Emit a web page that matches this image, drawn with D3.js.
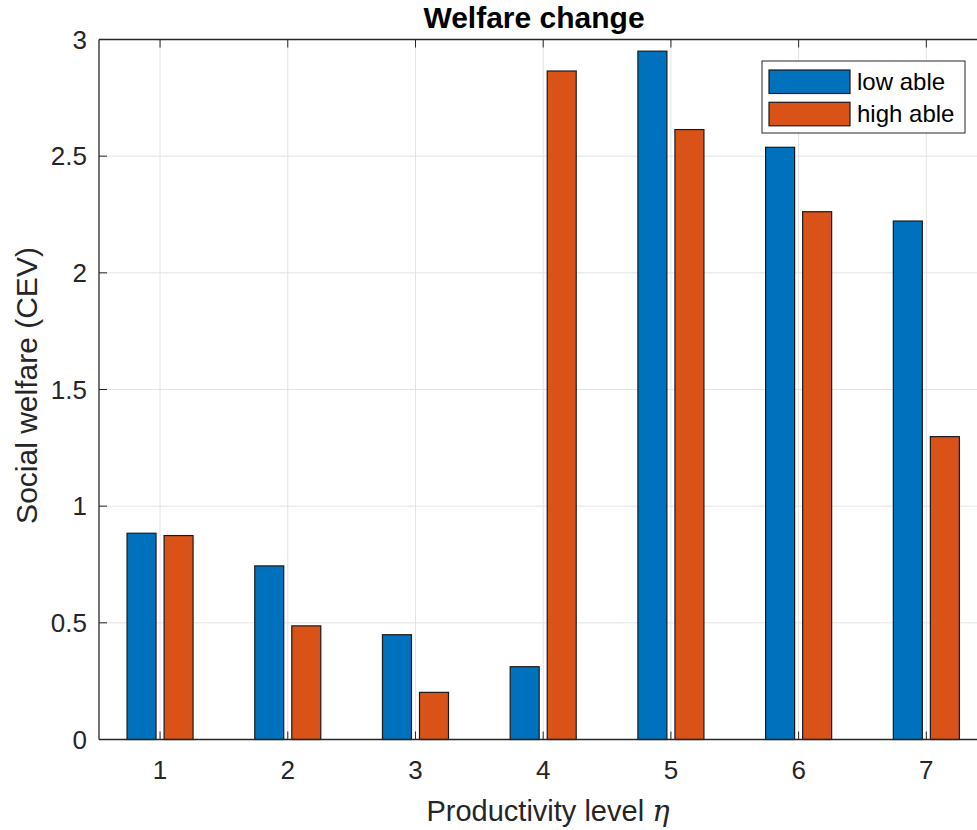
<!DOCTYPE html>
<html><head><meta charset="utf-8">
<script src="https://cdn.jsdelivr.net/npm/d3@7"></script>
<style>body{margin:0;background:#fff}svg{display:block}text{font-family:"Liberation Sans",Arial,sans-serif}</style>
</head><body><svg id="c" width="977" height="830"></svg>
<script>
const categories = [1,2,3,4,5,6,7];
const lowAble  = [0.884,0.744,0.449,0.312,2.950,2.538,2.222];
const highAble = [0.874,0.487,0.202,2.865,2.614,2.262,1.298];
const seriesNames = ["low able","high able"];
const yTicks = [0,0.5,1,1.5,2,2.5,3];
const yTickLabels = ["0","0.5","1","1.5","2","2.5","3"];
const colors = ["#0072BD","#D95319"];

(function(){
const svg = d3.select("#c");
const pLeft = 99, pTop = 39.5, pBottom = 739.5;
const x = d3.scaleLinear().domain([0.5,7.5]).range([96.2, 990.2]);
const y = d3.scaleLinear().domain([0,3]).range([pBottom, pTop]);
const axisColor = "#262626";

// grid
const g = svg.append("g");
g.selectAll(".gx").data(categories).join("line")
  .attr("x1", d=>x(d)).attr("x2", d=>x(d)).attr("y1", pTop).attr("y2", pBottom)
  .attr("stroke","#e3e3e3").attr("stroke-width",1);
g.selectAll(".gy").data(yTicks).join("line")
  .attr("x1", pLeft).attr("x2", 977).attr("y1", d=>y(d)).attr("y2", d=>y(d))
  .attr("stroke","#e3e3e3").attr("stroke-width",1);

// bars
const step = x(2)-x(1);
const bw = 0.227*step, off = 0.145*step;
const data = [lowAble, highAble];
data.forEach((vals, si) => {
  svg.append("g").selectAll("rect").data(vals).join("rect")
    .attr("x", (d,i)=> x(categories[i]) + (si===0?-off:off) - bw/2)
    .attr("width", bw)
    .attr("y", d=>y(d)).attr("height", d=>y(0)-y(d))
    .attr("fill", colors[si]).attr("stroke","#1a1a1a").attr("stroke-width",1.2);
});

// axes
const ax = svg.append("g");
ax.append("line").attr("x1",pLeft).attr("x2",pLeft).attr("y1",pTop).attr("y2",pBottom).attr("stroke",axisColor).attr("stroke-width",1.3);
ax.append("line").attr("x1",pLeft).attr("x2",977).attr("y1",pBottom).attr("y2",pBottom).attr("stroke",axisColor).attr("stroke-width",1.3);
ax.append("line").attr("x1",pLeft).attr("x2",977).attr("y1",pTop).attr("y2",pTop).attr("stroke",axisColor).attr("stroke-width",1.3);
categories.forEach(c=>{
  ax.append("line").attr("x1",x(c)).attr("x2",x(c)).attr("y1",pBottom).attr("y2",pBottom-8).attr("stroke",axisColor);
  ax.append("line").attr("x1",x(c)).attr("x2",x(c)).attr("y1",pTop).attr("y2",pTop+8).attr("stroke",axisColor);
  ax.append("text").attr("x",x(c)).attr("y",pBottom+39).attr("text-anchor","middle")
    .attr("font-size",26).attr("fill",axisColor).text(c);
});
yTicks.forEach((t,i)=>{
  ax.append("line").attr("x1",pLeft).attr("x2",pLeft+8).attr("y1",y(t)).attr("y2",y(t)).attr("stroke",axisColor);
  ax.append("text").attr("x",87).attr("y",y(t)+9).attr("text-anchor","end")
    .attr("font-size",26).attr("fill",axisColor).text(yTickLabels[i]);
});

// title and labels
svg.append("text").attr("x",534).attr("y",28).attr("text-anchor","middle")
  .attr("font-size",30).attr("font-weight","bold").attr("fill","#000").text("Welfare change");
const xl = svg.append("text").attr("x",548).attr("y",821).attr("text-anchor","middle")
  .attr("font-size",29).attr("fill",axisColor);
xl.append("tspan").text("Productivity level ");
xl.append("tspan").attr("font-family","'DejaVu Serif','Liberation Serif',serif").attr("font-style","italic").text("η");
svg.append("text").attr("transform",`translate(37,${(pTop+pBottom)/2 - 4}) rotate(-90)`)
  .attr("text-anchor","middle").attr("font-size",30).attr("fill",axisColor).text("Social welfare (CEV)");

// legend
const lg = svg.append("g");
lg.append("rect").attr("x",762).attr("y",61).attr("width",203).attr("height",72)
  .attr("fill","#fff").attr("stroke",axisColor).attr("stroke-width",1);
seriesNames.forEach((n,i)=>{
  lg.append("rect").attr("x",769).attr("y",70+i*32.3).attr("width",81).attr("height",23.5)
    .attr("fill",colors[i]).attr("stroke","#1a1a1a").attr("stroke-width",1.2);
  lg.append("text").attr("x",857).attr("y",90+i*32.3).attr("font-size",24).attr("fill","#000").text(n);
});
})();
</script></body></html>
